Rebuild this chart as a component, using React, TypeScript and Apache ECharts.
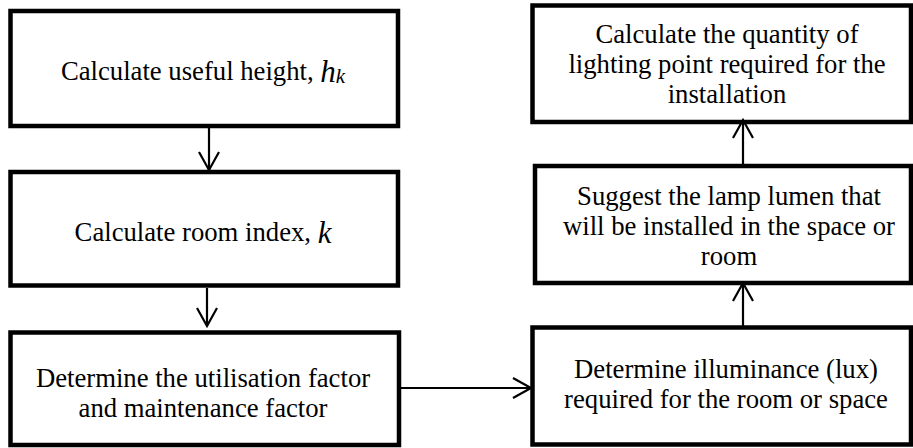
import React, { useEffect, useRef } from "react";
import * as echarts from "echarts";

// Flowchart content
const stepLabels: string[] = [
  "{a|Calculate useful height, }{m|h}{s|k}",
  "{a|Calculate room index, }{m|k}",
  "Determine the utilisation factor\nand maintenance factor",
  "Determine illuminance (lux)\nrequired for the room or space",
  "Suggest the lamp lumen that\nwill be installed in the space or\nroom",
  "Calculate the quantity of\nlighting point required for the\ninstallation",
];

// flow order: from step index -> to step index
const flowLinks: [number, number][] = [
  [0, 1],
  [1, 2],
  [2, 3],
  [3, 4],
  [4, 5],
];

// Layout (pixel boxes: x, y, w, h) and label anchors
const boxLayout: [number, number, number, number][] = [
  [10.5, 11, 387.5, 115],
  [10.5, 172, 387.5, 113.5],
  [10.5, 332.5, 388.5, 112.5],
  [532.5, 327.5, 378.5, 117],
  [535, 166, 376, 117],
  [532.5, 5.5, 378.5, 116.5],
];
const labelAnchor: [number, number][] = [
  [203, 71],
  [203, 232],
  [203, 392.5],
  [726, 384],
  [729, 225.7],
  [727, 63.7],
];
// arrow start / end (tip) points for each link
const arrowPaths: [number, number, number, number][] = [
  [209, 128, 209, 170],
  [207, 288, 207, 326],
  [401, 388, 531, 388],
  [743, 326, 743, 283],
  [743, 165, 743, 120],
];

const FONT = "'Liberation Serif', 'Times New Roman', serif";

export default function App() {
  const ref = useRef<HTMLDivElement>(null);
  useEffect(() => {
    if (!ref.current) return;
    const chart = echarts.init(ref.current, null, { renderer: "svg" });
    const elements: any[] = [];

    boxLayout.forEach(([x, y, w, h]) => {
      elements.push({
        type: "rect",
        shape: { x, y, width: w, height: h },
        style: { fill: "#fff", stroke: "#000", lineWidth: 4.5, lineJoin: "miter" },
        z: 1,
      });
    });

    stepLabels.forEach((t, i) => {
      const [cx, cy] = labelAnchor[i];
      elements.push({
        type: "text",
        x: cx,
        y: cy,
        z: 3,
        style: {
          text: t,
          align: "center",
          verticalAlign: "middle",
          fontFamily: FONT,
          fontSize: 26.7,
          lineHeight: 30,
          fill: "#000",
          rich: {
            a: { fontFamily: FONT, fontSize: 26.7, lineHeight: 30, fill: "#000" },
            m: { fontFamily: FONT, fontSize: 31, fontStyle: "italic", lineHeight: 30, fill: "#000" },
            s: {
              fontFamily: FONT,
              fontSize: 21,
              fontStyle: "italic",
              lineHeight: 12,
              verticalAlign: "bottom",
              fill: "#000",
            },
          },
        },
      });
    });

    flowLinks.forEach((_, i) => {
      const [x1, y1, x2, y2] = arrowPaths[i];
      const dx = x2 - x1;
      const dy = y2 - y1;
      const len = Math.sqrt(dx * dx + dy * dy);
      const ux = dx / len;
      const uy = dy / len;
      const hl = 18;
      const hw = 10;
      const bx = x2 - ux * hl;
      const by = y2 - uy * hl;
      elements.push({
        type: "line",
        z: 2,
        shape: { x1, y1, x2, y2 },
        style: { stroke: "#000", lineWidth: 2.2 },
      });
      elements.push({
        type: "polyline",
        z: 2,
        shape: {
          points: [
            [bx - uy * hw, by + ux * hw],
            [x2, y2],
            [bx + uy * hw, by - ux * hw],
          ],
        },
        style: { stroke: "#000", lineWidth: 2.2, fill: "none" },
      });
    });

    chart.setOption({
      animation: false,
      backgroundColor: "#fff",
      graphic: { elements },
    });
    return () => chart.dispose();
  }, []);
  return (
    <div
      ref={ref}
      style={{ position: "fixed", left: 0, top: 0, width: 913, height: 448 }}
    />
  );
}
